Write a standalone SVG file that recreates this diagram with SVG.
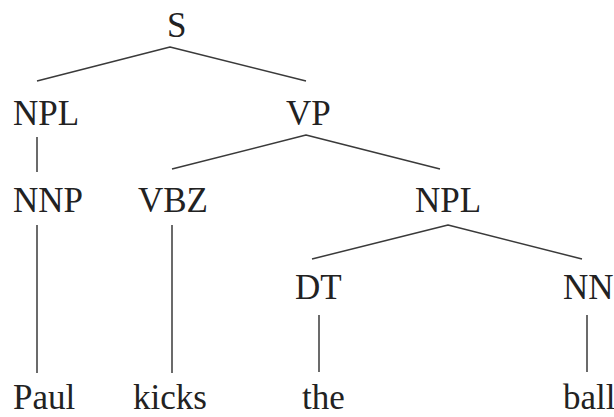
<svg xmlns="http://www.w3.org/2000/svg" width="614" height="417" viewBox="0 0 614 417">
  <style>
    .lbl { font-family: "Liberation Serif", "Times New Roman", serif; font-size: 35px; fill: #222; }
    .edge { fill: none; stroke: #3a3a3a; stroke-width: 1.5; stroke-linejoin: round; }
  </style>
  <rect width="614" height="417" fill="#fff"/>

  <!-- tree edges -->
  <g id="edges">
    <polyline class="edge" points="37,81 170,47 306,81"/>
    <line class="edge" x1="37" y1="137" x2="37" y2="172"/>
    <polyline class="edge" points="172,169 306,135 440,169"/>
    <line class="edge" x1="37" y1="225" x2="37" y2="373"/>
    <line class="edge" x1="172" y1="225" x2="172" y2="373"/>
    <polyline class="edge" points="312,259 448,225 582,259"/>
    <line class="edge" x1="319" y1="315" x2="319" y2="372"/>
    <line class="edge" x1="587" y1="315" x2="587" y2="372"/>
  </g>

  <!-- phrase and tag nodes -->
  <g id="S"><text class="lbl" x="167" y="37">S</text></g>
  <g id="NPL1"><text class="lbl" x="13" y="125">NPL</text></g>
  <g id="VP"><text class="lbl" x="286" y="125">VP</text></g>
  <g id="NNP"><text class="lbl" x="13" y="212">NNP</text></g>
  <g id="VBZ"><text class="lbl" x="138" y="212">VBZ</text></g>
  <g id="NPL2"><text class="lbl" x="415" y="212">NPL</text></g>
  <g id="DT"><text class="lbl" x="295" y="299">DT</text></g>
  <g id="NN"><text class="lbl" x="563" y="299">NN</text></g>

  <!-- words -->
  <g id="w-Paul"><text class="lbl" x="13" y="409">Paul</text></g>
  <g id="w-kicks"><text class="lbl" x="133" y="409">kicks</text></g>
  <g id="w-the"><text class="lbl" x="302" y="409">the</text></g>
  <g id="w-ball"><text class="lbl" x="563" y="409">ball</text></g>
</svg>
